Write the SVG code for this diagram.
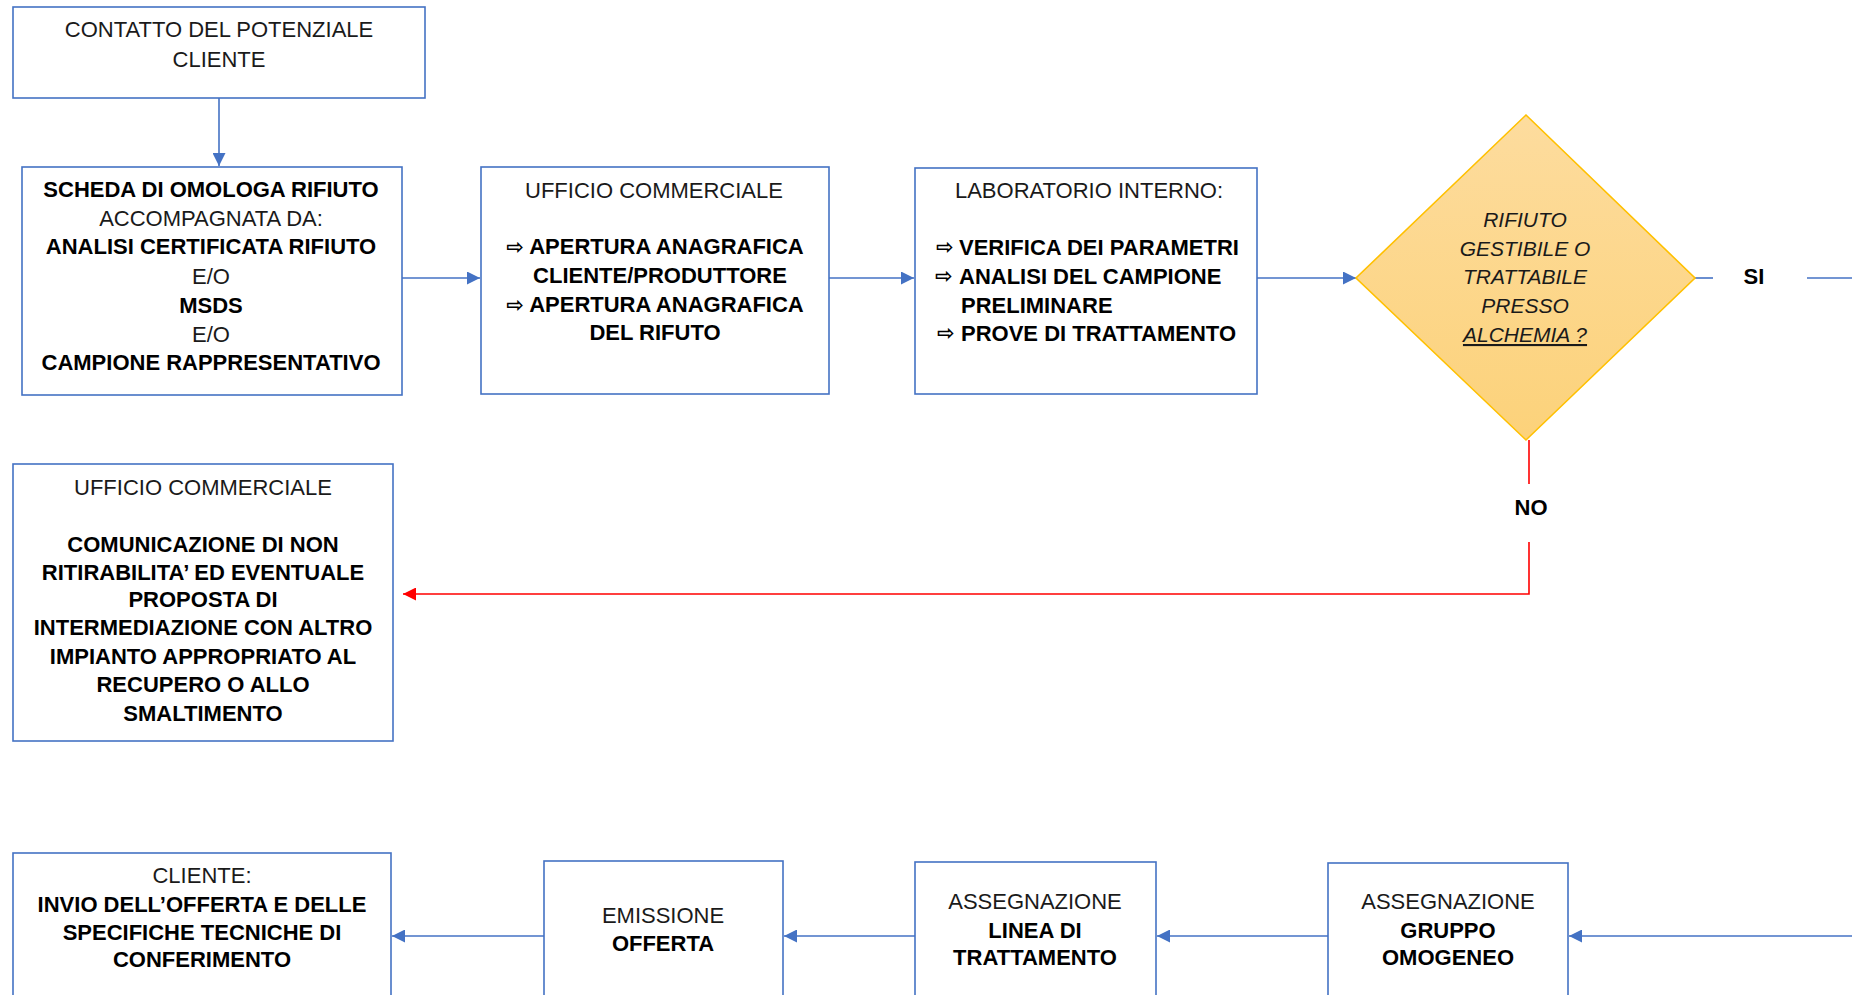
<svg xmlns="http://www.w3.org/2000/svg" width="1852" height="995" viewBox="0 0 1852 995">
  <style>
    .box { fill: #ffffff; stroke: #4472C4; stroke-width: 1.6; }
    .t { font-family: "Liberation Sans", Arial, sans-serif; font-size: 22px; fill: #1a1a1a; }
    .c { text-anchor: middle; }
    .b { font-weight: bold; fill: #000; }
    .i { font-style: italic; font-size: 21px; }
    .arr { font-family: "DejaVu Sans", sans-serif; font-weight: bold; font-size: 21px; }
    .link { fill: none; stroke: #4472C4; stroke-width: 1.6; }
    .no { fill: none; stroke: #FF0000; stroke-width: 1.6; }
  </style>
  <defs>
    <marker id="ah" viewBox="0 0 10 10" refX="10" refY="5" markerWidth="13" markerHeight="13" markerUnits="userSpaceOnUse" orient="auto">
      <path d="M0,0 L10,5 L0,10 z" fill="#4472C4"/>
    </marker>
    <marker id="ahr" viewBox="0 0 10 10" refX="10" refY="5" markerWidth="13" markerHeight="13" markerUnits="userSpaceOnUse" orient="auto">
      <path d="M0,0 L10,5 L0,10 z" fill="#FF0000"/>
    </marker>
    <linearGradient id="dg" x1="0" y1="0" x2="0" y2="1">
      <stop offset="0" stop-color="#FDDC9E"/>
      <stop offset="1" stop-color="#FCD27A"/>
    </linearGradient>
  </defs>

  <rect width="1852" height="995" fill="#ffffff"/>

  <!-- connectors -->
  <g id="connectors">
    <path class="link" d="M219,98 V166" marker-end="url(#ah)"/>
    <path class="link" d="M402,278 H480" marker-end="url(#ah)"/>
    <path class="link" d="M829,278 H914" marker-end="url(#ah)"/>
    <path class="link" d="M1257,278 H1356" marker-end="url(#ah)"/>
    <!-- SI branch -->
    <path class="link" d="M1695,278 H1713"/>
    <path class="link" d="M1807,278 H1852"/>
    <text class="t b c" x="1754" y="284">SI</text>
    <!-- NO branch -->
    <path class="no" d="M1529,440 V484"/>
    <path class="no" d="M1529,542 V594 H403" marker-end="url(#ahr)"/>
    <text class="t b c" x="1531" y="515">NO</text>
    <!-- bottom row, right to left -->
    <path class="link" d="M1852,936 H1569" marker-end="url(#ah)"/>
    <path class="link" d="M1328,936 H1157" marker-end="url(#ah)"/>
    <path class="link" d="M915,936 H784" marker-end="url(#ah)"/>
    <path class="link" d="M544,936 H392" marker-end="url(#ah)"/>
  </g>

  <g id="contatto">
    <rect class="box" x="13" y="7" width="412" height="91"/>
    <text class="t c" x="219" y="37">CONTATTO DEL POTENZIALE</text>
    <text class="t c" x="219" y="67">CLIENTE</text>
  </g>

  <g id="scheda">
    <rect class="box" x="22" y="167" width="380" height="228"/>
    <text class="t b c" x="211" y="197">SCHEDA DI OMOLOGA RIFIUTO</text>
    <text class="t c" x="211" y="226">ACCOMPAGNATA DA:</text>
    <text class="t b c" x="211" y="254">ANALISI CERTIFICATA RIFIUTO</text>
    <text class="t c" x="211" y="284">E/O</text>
    <text class="t b c" x="211" y="313">MSDS</text>
    <text class="t c" x="211" y="342">E/O</text>
    <text class="t b c" x="211" y="370">CAMPIONE RAPPRESENTATIVO</text>
  </g>

  <g id="ufficio-commerciale">
    <rect class="box" x="481" y="167" width="348" height="227"/>
    <text class="t c" x="654" y="198">UFFICIO COMMERCIALE</text>
    <text class="t b c" x="655" y="254"><tspan class="arr">⇨</tspan> APERTURA ANAGRAFICA</text>
    <text class="t b c" x="660" y="283">CLIENTE/PRODUTTORE</text>
    <text class="t b c" x="655" y="312"><tspan class="arr">⇨</tspan> APERTURA ANAGRAFICA</text>
    <text class="t b c" x="655" y="340">DEL RIFUTO</text>
  </g>

  <g id="laboratorio">
    <rect class="box" x="915" y="168" width="342" height="226"/>
    <text class="t c" x="1089" y="198">LABORATORIO INTERNO:</text>
    <text class="t b arr" x="936" y="254">⇨</text>
    <text class="t b" x="959" y="255">VERIFICA DEI PARAMETRI</text>
    <text class="t b arr" x="935" y="283">⇨</text>
    <text class="t b" x="959" y="284">ANALISI DEL CAMPIONE</text>
    <text class="t b" x="961" y="313">PRELIMINARE</text>
    <text class="t b arr" x="937" y="340">⇨</text>
    <text class="t b" x="961" y="341">PROVE DI TRATTAMENTO</text>
  </g>

  <g id="decisione">
    <path d="M1526,115 L1695,278 L1526,440 L1356,278 Z" fill="url(#dg)" stroke="#FFC000" stroke-width="1.6"/>
    <text class="t i c" x="1525" y="227">RIFIUTO</text>
    <text class="t i c" x="1525" y="256">GESTIBILE O</text>
    <text class="t i c" x="1525" y="284">TRATTABILE</text>
    <text class="t i c" x="1525" y="313">PRESSO</text>
    <text class="t i c" x="1525" y="342" text-decoration="underline">ALCHEMIA ?</text>
  </g>

  <g id="non-ritirabile">
    <rect class="box" x="13" y="464" width="380" height="277"/>
    <text class="t c" x="203" y="495">UFFICIO COMMERCIALE</text>
    <text class="t b c" x="203" y="552">COMUNICAZIONE DI NON</text>
    <text class="t b c" x="203" y="580">RITIRABILITA’ ED EVENTUALE</text>
    <text class="t b c" x="203" y="607">PROPOSTA DI</text>
    <text class="t b c" x="203" y="635">INTERMEDIAZIONE CON ALTRO</text>
    <text class="t b c" x="203" y="664">IMPIANTO APPROPRIATO AL</text>
    <text class="t b c" x="203" y="692">RECUPERO O ALLO</text>
    <text class="t b c" x="203" y="721">SMALTIMENTO</text>
  </g>

  <g id="cliente">
    <rect class="box" x="13" y="853" width="378" height="170"/>
    <text class="t c" x="202" y="883">CLIENTE:</text>
    <text class="t b c" x="202" y="912">INVIO DELL’OFFERTA E DELLE</text>
    <text class="t b c" x="202" y="940">SPECIFICHE TECNICHE DI</text>
    <text class="t b c" x="202" y="967">CONFERIMENTO</text>
  </g>

  <g id="emissione">
    <rect class="box" x="544" y="861" width="239" height="160"/>
    <text class="t c" x="663" y="923">EMISSIONE</text>
    <text class="t b c" x="663" y="951">OFFERTA</text>
  </g>

  <g id="linea">
    <rect class="box" x="915" y="862" width="241" height="160"/>
    <text class="t c" x="1035" y="909">ASSEGNAZIONE</text>
    <text class="t b c" x="1035" y="938">LINEA DI</text>
    <text class="t b c" x="1035" y="965">TRATTAMENTO</text>
  </g>

  <g id="gruppo">
    <rect class="box" x="1328" y="863" width="240" height="160"/>
    <text class="t c" x="1448" y="909">ASSEGNAZIONE</text>
    <text class="t b c" x="1448" y="938">GRUPPO</text>
    <text class="t b c" x="1448" y="965">OMOGENEO</text>
  </g>
</svg>
